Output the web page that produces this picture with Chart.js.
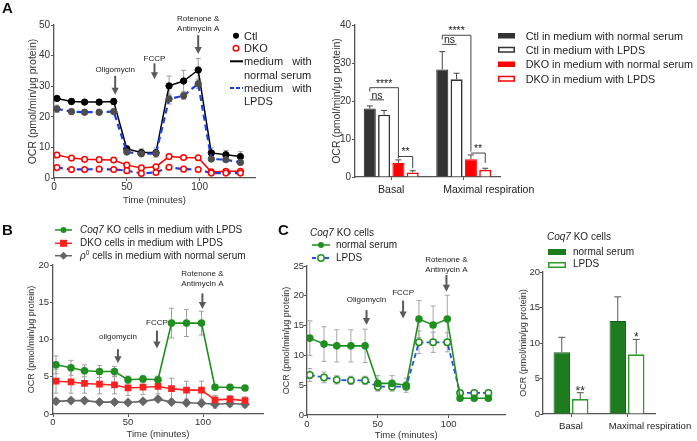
<!DOCTYPE html>
<html>
<head>
<meta charset="utf-8">
<script src="https://cdn.jsdelivr.net/npm/chart.js@4.4.1/dist/chart.umd.min.js"></script>
<style>
html,body{margin:0;padding:0;background:#fff}
body{width:697px;height:441px;position:relative;overflow:hidden;font-family:"Liberation Sans",Arial,Helvetica,sans-serif;color:#1e1e1e}
canvas{position:absolute}
.t{position:absolute;white-space:nowrap;line-height:1;transform:translateY(-50%)}
.pl{font-weight:bold;font-size:15px;color:#111}
sup{font-size:0.65em;vertical-align:0.55em;line-height:0}
</style>
</head>
<body>
<canvas id="cAL"></canvas>
<canvas id="cAR"></canvas>
<canvas id="cB"></canvas>
<canvas id="cCL"></canvas>
<canvas id="cCR"></canvas>

<svg width="697" height="441" style="position:absolute;left:0;top:0;pointer-events:none">
  <!-- A left legend symbols -->
  <circle cx="236" cy="35.7" r="3" fill="#000"/>
  <circle cx="236" cy="48.3" r="2.8" fill="#fff" stroke="#ff0000" stroke-width="1.5"/>
  <line x1="230" y1="61.3" x2="243" y2="61.3" stroke="#000" stroke-width="2"/>
  <line x1="230" y1="88" x2="243" y2="88" stroke="#1c3fe0" stroke-width="2" stroke-dasharray="4,2"/>
  <!-- A right legend symbols -->
  <rect x="498" y="33" width="17" height="5.5" fill="#333"/>
  <rect x="498.75" y="47.5" width="15.5" height="4.5" fill="#fff" stroke="#333" stroke-width="1.5"/>
  <rect x="498" y="61.5" width="17" height="5.5" fill="#ff0000"/>
  <rect x="498.75" y="76.5" width="15.5" height="4.5" fill="#fff" stroke="#ff0000" stroke-width="1.5"/>
  <!-- B legend symbols -->
  <line x1="55" y1="230" x2="72" y2="230" stroke="#1f8f1f" stroke-width="1.5"/>
  <circle cx="63.5" cy="230" r="3" fill="#1f8f1f"/>
  <line x1="55" y1="243.3" x2="72" y2="243.3" stroke="#ff2020" stroke-width="1.5"/>
  <rect x="60" y="239.8" width="7" height="7" fill="#ff2020"/>
  <line x1="55" y1="255.7" x2="72" y2="255.7" stroke="#666" stroke-width="1.5"/>
  <polygon points="63.5,251.7 67.5,255.7 63.5,259.7 59.5,255.7" fill="#666"/>
  <!-- C left legend symbols -->
  <line x1="312" y1="245" x2="330" y2="245" stroke="#1f8f1f" stroke-width="1.5"/>
  <circle cx="321" cy="245" r="3" fill="#1f8f1f"/>
  <line x1="312" y1="258" x2="330" y2="258" stroke="#2a4fe0" stroke-width="1.8" stroke-dasharray="4,2.5"/>
  <circle cx="321" cy="258" r="3.2" fill="#fff" stroke="#1f8f1f" stroke-width="1.5"/>
  <!-- C right legend symbols -->
  <rect x="548" y="249" width="18" height="6" fill="#1e7b1e"/>
  <rect x="548.75" y="262.75" width="16.5" height="4.5" fill="#fff" stroke="#2a9a2a" stroke-width="1.5"/>
</svg>

<div class="t pl" style="left:2px;top:7px">A</div>
<div class="t pl" style="left:2px;top:228.5px">B</div>
<div class="t pl" style="left:278px;top:228.5px">C</div>

<div class="t" style="left:244px;top:35.7px;font-size:11px">Ctl</div>
<div class="t" style="left:244px;top:48.3px;font-size:11px">DKO</div>
<div class="t" style="left:244px;top:61.3px;font-size:11px;word-spacing:6px">medium with</div>
<div class="t" style="left:244px;top:74.5px;font-size:11px">normal serum</div>
<div class="t" style="left:244px;top:88px;font-size:11px;word-spacing:6px">medium with</div>
<div class="t" style="left:244px;top:101px;font-size:11px">LPDS</div>

<div class="t" style="left:525.7px;top:35.7px;font-size:10.8px">Ctl in medium with normal serum</div>
<div class="t" style="left:525.7px;top:50px;font-size:10.8px">Ctl in medium with LPDS</div>
<div class="t" style="left:525.7px;top:64.3px;font-size:10.8px">DKO in medium with normal serum</div>
<div class="t" style="left:525.7px;top:79px;font-size:10.8px">DKO in medium with LPDS</div>

<div class="t" style="left:80px;top:230px;font-size:10px"><i>Coq7</i> KO cells in medium with LPDS</div>
<div class="t" style="left:80px;top:243.3px;font-size:10px">DKO cells in medium with LPDS</div>
<div class="t" style="left:80px;top:255.7px;font-size:10px"><i>ρ</i><sup>0</sup> cells in medium with normal serum</div>

<div class="t" style="left:310px;top:232.7px;font-size:10px"><i>Coq7</i> KO cells</div>
<div class="t" style="left:336px;top:245px;font-size:10px">normal serum</div>
<div class="t" style="left:336px;top:258px;font-size:10px">LPDS</div>

<div class="t" style="left:547px;top:236.7px;font-size:10px"><i>Coq7</i> KO cells</div>
<div class="t" style="left:573px;top:251.7px;font-size:10px">normal serum</div>
<div class="t" style="left:573px;top:264.3px;font-size:10px">LPDS</div>

<script>
// ================= DATA =================
const times = [2, 12, 21, 31, 41, 50, 60, 70, 79, 89, 99, 108, 118, 128];
const yTitle = 'OCR (pmol/min/μg protein)';
const xTitle = 'Time (minutes)';

// Panel A – time course
const aCtlNormal    = [26.0, 25.0, 24.8, 24.8, 25.0, 9.5, 8.3, 8.3, 30.1, 31.7, 35.3, 8.2, 7.6, 7.0];
const aCtlNormalErr = [0.6, 0.8, 0.8, 0.8, 1.0, 1.0, 1.2, 1.5, 3.2, 3.5, 3.8, 1.6, 1.4, 1.6];
const aCtlLpds      = [22.6, 21.7, 21.5, 21.5, 21.7, 8.5, 7.9, 8.0, 25.8, 26.9, 30.8, 6.2, 6.0, 5.1];
const aCtlLpdsErr   = [1.2, 0.8, 0.6, 0.6, 0.8, 0.6, 0.6, 0.6, 1.6, 1.2, 1.5, 0.6, 0.5, 0.5];
const aDkoNormal    = [7.5, 6.5, 6.1, 6.0, 5.9, 4.2, 3.3, 3.7, 7.0, 6.7, 6.6, 2.0, 2.2, 2.2];
const aDkoNormalErr = [0.5, 0.5, 0.5, 0.5, 0.5, 0.5, 0.4, 0.4, 0.6, 0.6, 0.6, 0.4, 0.4, 0.4];
const aDkoLpds      = [3.4, 2.8, 2.8, 2.9, 2.8, 2.4, 1.5, 1.8, 3.5, 2.9, 2.8, 1.6, 1.6, 1.6];
const aDkoLpdsErr   = [0.5, 0.4, 0.4, 0.4, 0.4, 0.4, 0.3, 0.3, 0.5, 0.5, 0.5, 0.3, 0.3, 0.3];

// Panel A – bars
const barCategories    = ['Basal', 'Maximal respiration'];
const aBarCtlNormal    = [18.0, 28.3];
const aBarCtlNormalErr = [0.7, 4.7];
const aBarCtlLpds      = [16.4, 25.7];
const aBarCtlLpdsErr   = [1.1, 1.6];
const aBarDkoNormal    = [3.7, 4.7];
const aBarDkoNormalErr = [0.8, 1.1];
const aBarDkoLpds      = [1.2, 1.9];
const aBarDkoLpdsErr   = [0.45, 0.4];
// significance brackets: category, bar a, bar b, line value, end values, label
const aBrackets = [
  {cat: 0, a: 0, b: 1, y: 20.3, ya: 20.3, yb: 20.3, text: 'ns'},
  {cat: 0, a: 0, b: 2, y: 23.5, ya: 22.5, yb: 4.9, text: '****'},
  {cat: 0, a: 2, b: 3, y: 5.4, ya: 5.4, yb: 2.3, text: '**'},
  {cat: 1, a: 0, b: 1, y: 34.9, ya: 34.9, yb: 34.9, text: 'ns'},
  {cat: 1, a: 0, b: 2, y: 37.3, ya: 36.2, yb: 6.7, text: '****'},
  {cat: 1, a: 2, b: 3, y: 6.3, ya: 6.3, yb: 3.7, text: '**'}
];

// Panel B
const bCoq7Lpds    = [6.6, 6.2, 5.8, 5.7, 5.7, 4.6, 4.7, 4.6, 12.2, 12.2, 12.2, 3.6, 3.6, 3.5];
const bCoq7LpdsErr = [1.2, 1.0, 0.8, 0.8, 0.7, 0.5, 0.5, 0.5, 2.0, 1.8, 1.6, 0.3, 0.3, 0.3];
const bDkoLpds     = [4.4, 4.3, 4.1, 4.0, 3.9, 3.5, 3.6, 3.7, 3.4, 3.2, 3.2, 1.9, 2.0, 1.8];
const bDkoLpdsErr  = [1.6, 1.5, 1.3, 1.3, 1.2, 1.0, 1.0, 1.0, 1.4, 1.2, 1.2, 0.6, 0.5, 0.5];
const bRho0Normal    = [1.7, 1.8, 1.8, 1.6, 1.6, 1.55, 1.7, 2.0, 1.6, 1.5, 1.45, 1.3, 1.4, 1.3];
const bRho0NormalErr = [0.3, 0.3, 0.3, 0.3, 0.3, 0.3, 0.3, 0.3, 0.3, 0.3, 0.3, 0.5, 0.4, 0.4];

// Panel C – time course
const cNormal    = [12.9, 11.9, 11.6, 11.6, 11.6, 5.3, 5.3, 5.0, 16.1, 15.1, 16.1, 2.8, 2.8, 2.8];
const cNormalErr = [2.9, 2.9, 2.7, 2.7, 2.8, 1.3, 1.3, 1.2, 3.1, 3.2, 4.0, 0.4, 0.4, 0.4];
const cLpds      = [6.7, 6.3, 5.9, 5.8, 5.8, 4.75, 4.75, 4.75, 12.2, 12.2, 12.2, 3.7, 3.7, 3.7];
const cLpdsErr   = [1.1, 0.9, 0.7, 0.7, 0.7, 0.5, 0.5, 0.5, 1.9, 1.7, 1.6, 0.3, 0.3, 0.3];

// Panel C – bars
const cBarNormal    = [8.7, 13.1];
const cBarNormalErr = [2.1, 3.4];
const cBarLpds      = [2.1, 8.4];
const cBarLpdsErr   = [0.9, 2.1];
const cStars = [{cat: 0, ds: 1, text: '**'}, {cat: 1, ds: 1, text: '*'}];

// Injection annotations (time, arrow top/tip and label in data units)
const injA = [
  {t: 42, y1: 33.4, y2: 27.2, ty: 35.3, text: ['Oligomycin']},
  {t: 69, y1: 37.5, y2: 32.3, ty: 39.1, text: ['FCCP']},
  {t: 99, y1: 46.7, y2: 40.5, ty: 48.7, text: ['Rotenone &', 'Antimycin A']}
];
const injB = [
  {t: 43.3, y1: 8.7, y2: 6.8, ty: 10.4, text: ['oligomycin']},
  {t: 69.3, y1: 11.2, y2: 8.8, ty: 12.2, text: ['FCCP']},
  {t: 99.6, y1: 16.2, y2: 14.1, ty: 17.5, text: ['Rotenone &', 'Antimycin A']}
];
const injC = [
  {t: 42, y1: 17.6, y2: 15.1, ty: 19.3, text: ['Oligomycin']},
  {t: 67.8, y1: 19.2, y2: 16.2, ty: 20.5, text: ['FCCP']},
  {t: 98.4, y1: 23.5, y2: 20.7, ty: 24.3, text: ['Rotenone &', 'Antimycin A']}
];

// ================= HELPERS =================
const FONT = '"Liberation Sans", Arial, sans-serif';
Chart.defaults.font.family = FONT;
Chart.defaults.color = '#333';
Chart.defaults.animation = false;
Chart.defaults.plugins.legend.display = false;
Chart.defaults.plugins.tooltip.enabled = false;
const AXIS = '#555';

function pts(vals) { return times.map((t, i) => ({x: t, y: vals[i]})); }

function place(id, box) {
  const c = document.getElementById(id);
  c.width = box.w; c.height = box.h;
  c.style.left = box.l + 'px'; c.style.top = box.t + 'px';
  c.style.width = box.w + 'px'; c.style.height = box.h + 'px';
  return c;
}
function pad(box, area, yW, xH) {
  return {left: area.l - box.l - yW, top: area.t - box.t,
          right: box.l + box.w - area.r, bottom: box.t + box.h - area.b - xH};
}
const gridOpts = {display: true, drawOnChartArea: false, drawTicks: true, tickLength: 3, color: AXIS, lineWidth: 1};
const borderOpts = {display: true, color: AXIS, width: 1.3};

function yScale(max, step, yW, tickSize, titleSize, tickPad) {
  return {
    min: 0, max: max,
    ticks: {stepSize: step, font: {size: tickSize}, color: '#333', padding: tickPad},
    grid: gridOpts, border: borderOpts,
    title: {display: true, text: yTitle, font: {size: titleSize}, color: '#333', padding: 0},
    afterFit(s) { s.width = yW; }
  };
}
function xLinear(max, xH, tickSize, titleSize, tickPad) {
  return {
    type: 'linear', min: 0, max: max,
    ticks: {stepSize: 50, includeBounds: false, font: {size: tickSize}, color: '#333', padding: tickPad, maxRotation: 0},
    grid: gridOpts, border: borderOpts,
    title: {display: true, text: xTitle, font: {size: titleSize}, color: '#333', padding: 0},
    afterFit(s) { s.height = xH; }
  };
}
function xCat(xH) {
  return {
    type: 'category', offset: true, ticks: {display: false},
    grid: Object.assign({}, gridOpts, {offset: false}), border: borderOpts,
    afterFit(s) { s.height = xH; }
  };
}

function errorBars(mode, color, capW, width) {
  function draw(chart) {
    const ctx = chart.ctx, ys = chart.scales.y;
    ctx.save();
    ctx.strokeStyle = color; ctx.lineWidth = width;
    chart.data.datasets.forEach((ds, di) => {
      if (!ds.errors) return;
      const meta = chart.getDatasetMeta(di);
      meta.data.forEach((el, j) => {
        const raw = ds.data[j];
        const v = (typeof raw === 'object') ? raw.y : raw;
        const e = ds.errors[j];
        if (!e) return;
        const x = el.x;
        const top = ys.getPixelForValue(v + e);
        const bot = mode === 'up' ? ys.getPixelForValue(v) : ys.getPixelForValue(v - e);
        ctx.beginPath();
        ctx.moveTo(x, bot); ctx.lineTo(x, top);
        ctx.moveTo(x - capW, top); ctx.lineTo(x + capW, top);
        if (mode !== 'up') { ctx.moveTo(x - capW, bot); ctx.lineTo(x + capW, bot); }
        ctx.stroke();
      });
    });
    ctx.restore();
  }
  return mode === 'up' ? {id: 'eb', afterDatasetsDraw: draw} : {id: 'eb', beforeDatasetsDraw: draw};
}

function injections(items, fontSize, lineGap) {
  return {id: 'inj', afterDatasetsDraw(chart) {
    const ctx = chart.ctx, x = chart.scales.x, y = chart.scales.y;
    ctx.save();
    items.forEach(it => {
      const px = x.getPixelForValue(it.t);
      const y1 = y.getPixelForValue(it.y1), y2 = y.getPixelForValue(it.y2);
      const hh = 7, hw = 3.6;
      ctx.strokeStyle = '#5a5a5a'; ctx.fillStyle = '#5a5a5a'; ctx.lineWidth = 2;
      ctx.beginPath(); ctx.moveTo(px, y1); ctx.lineTo(px, y2 - hh + 1); ctx.stroke();
      ctx.beginPath(); ctx.moveTo(px - hw, y2 - hh); ctx.lineTo(px + hw, y2 - hh); ctx.lineTo(px, y2); ctx.closePath(); ctx.fill();
      ctx.fillStyle = '#222';
      ctx.font = fontSize + 'px ' + FONT;
      ctx.textAlign = 'center'; ctx.textBaseline = 'middle';
      const ty = y.getPixelForValue(it.ty);
      const n = it.text.length;
      it.text.forEach((s, k) => ctx.fillText(s, px, ty - (n - 1 - k) * lineGap));
    });
    ctx.restore();
  }};
}

function brackets(items, fontSize) {
  return {id: 'br', afterDatasetsDraw(chart) {
    const ctx = chart.ctx, y = chart.scales.y;
    ctx.save();
    ctx.strokeStyle = '#444'; ctx.lineWidth = 1; ctx.fillStyle = '#222';
    ctx.font = fontSize + 'px ' + FONT; ctx.textAlign = 'center'; ctx.textBaseline = 'alphabetic';
    items.forEach(b => {
      const xa = chart.getDatasetMeta(b.a).data[b.cat].x;
      const xb = chart.getDatasetMeta(b.b).data[b.cat].x;
      const yl = y.getPixelForValue(b.y);
      ctx.beginPath();
      ctx.moveTo(xa, y.getPixelForValue(b.ya)); ctx.lineTo(xa, yl);
      ctx.lineTo(xb, yl); ctx.lineTo(xb, y.getPixelForValue(b.yb));
      ctx.stroke();
      ctx.fillText(b.text, (xa + xb) / 2, yl - 1);
    });
    ctx.restore();
  }};
}

function stars(items, fontSize) {
  return {id: 'st', afterDatasetsDraw(chart) {
    const ctx = chart.ctx, y = chart.scales.y;
    ctx.save();
    ctx.fillStyle = '#222'; ctx.font = fontSize + 'px ' + FONT;
    ctx.textAlign = 'center'; ctx.textBaseline = 'alphabetic';
    items.forEach(s => {
      const ds = chart.data.datasets[s.ds];
      const el = chart.getDatasetMeta(s.ds).data[s.cat];
      const top = y.getPixelForValue(ds.data[s.cat] + ds.errors[s.cat]);
      ctx.fillText(s.text, el.x, top + 2);
    });
    ctx.restore();
  }};
}

function catLabels(labels, offsets, fontSize, dy) {
  return {id: 'cl', afterDraw(chart) {
    const ctx = chart.ctx, x = chart.scales.x;
    ctx.save();
    ctx.font = fontSize + 'px ' + FONT; ctx.fillStyle = '#222';
    ctx.textAlign = 'center'; ctx.textBaseline = 'middle';
    labels.forEach((l, i) => ctx.fillText(l, x.getPixelForValue(i) + offsets[i], chart.chartArea.bottom + dy));
    ctx.restore();
  }};
}

const BLUE = '#1c3fe0';
const GREEN = '#1f8f1f';

// ================= PANEL A LEFT =================
{
  const box = {l: 0, t: 0, w: 262, h: 206}, area = {l: 54, t: 25, r: 255, b: 178};
  new Chart(place('cAL', box), {
    type: 'line',
    data: {datasets: [
      {data: pts(aCtlLpds), errors: aCtlLpdsErr, borderColor: BLUE, borderWidth: 2.2, borderDash: [6, 4],
       pointRadius: 3.2, pointBackgroundColor: '#4d4d4d', pointBorderColor: '#4d4d4d', pointBorderWidth: 1},
      {data: pts(aDkoLpds), errors: aDkoLpdsErr, borderColor: BLUE, borderWidth: 2.2, borderDash: [6, 4],
       pointRadius: 2.8, pointBackgroundColor: '#fff', pointBorderColor: '#ff0000', pointBorderWidth: 1.5},
      {data: pts(aCtlNormal), errors: aCtlNormalErr, borderColor: '#000', borderWidth: 1.5,
       pointRadius: 3.2, pointBackgroundColor: '#000', pointBorderColor: '#000', pointBorderWidth: 1},
      {data: pts(aDkoNormal), errors: aDkoNormalErr, borderColor: '#ff0000', borderWidth: 1.5,
       pointRadius: 2.8, pointBackgroundColor: '#fff', pointBorderColor: '#ff0000', pointBorderWidth: 1.5}
    ]},
    options: {responsive: false, layout: {padding: pad(box, area, 27, 28)},
      scales: {x: xLinear(138, 28, 10, 9.5, 0), y: yScale(50, 10, 27, 10, 10.5, 1)}},
    plugins: [errorBars('both', '#9a9a9a', 2.5, 1), injections(injA, 8, 10)]
  });
}

// ================= PANEL A RIGHT =================
{
  const box = {l: 300, t: 0, w: 245, h: 200}, area = {l: 355, t: 25, r: 500, b: 177};
  new Chart(place('cAR', box), {
    type: 'bar',
    data: {labels: barCategories, datasets: [
      {data: aBarCtlNormal, errors: aBarCtlNormalErr, backgroundColor: '#333', borderColor: '#222', borderWidth: 1},
      {data: aBarCtlLpds, errors: aBarCtlLpdsErr, backgroundColor: '#fff', borderColor: '#333', borderWidth: 1.6},
      {data: aBarDkoNormal, errors: aBarDkoNormalErr, backgroundColor: '#ff0000', borderColor: '#ff0000', borderWidth: 1},
      {data: aBarDkoLpds, errors: aBarDkoLpdsErr, backgroundColor: '#fff', borderColor: '#ff0000', borderWidth: 1.6}
    ]},
    options: {responsive: false, layout: {padding: pad(box, area, 24, 20)},
      datasets: {bar: {categoryPercentage: 0.79, barPercentage: 0.84}},
      scales: {x: xCat(20), y: yScale(40, 10, 24, 10, 10.5, 1)}},
    plugins: [errorBars('up', '#444', 3, 1), brackets(aBrackets, 10.5), catLabels(barCategories, [0, 25], 10.5, 13)]
  });
}

// ================= PANEL B =================
{
  const box = {l: 0, t: 240, w: 270, h: 200}, area = {l: 53, t: 265, r: 263, b: 414};
  new Chart(place('cB', box), {
    type: 'line',
    data: {datasets: [
      {data: pts(bCoq7Lpds), errors: bCoq7LpdsErr, borderColor: GREEN, borderWidth: 1.6,
       pointRadius: 3, pointBackgroundColor: GREEN, pointBorderColor: GREEN},
      {data: pts(bDkoLpds), errors: bDkoLpdsErr, borderColor: '#ff2020', borderWidth: 1.6,
       pointStyle: 'rect', pointRadius: 3.6, pointBackgroundColor: '#ff2020', pointBorderColor: '#ff2020'},
      {data: pts(bRho0Normal), errors: bRho0NormalErr, borderColor: '#666', borderWidth: 1.6,
       pointStyle: 'rectRot', pointRadius: 3.8, pointBackgroundColor: '#666', pointBorderColor: '#666'}
    ]},
    options: {responsive: false, layout: {padding: pad(box, area, 27, 26)},
      scales: {x: xLinear(140, 26, 9.5, 9.5, 0), y: yScale(20, 5, 27, 9.5, 9, 1)}},
    plugins: [errorBars('both', '#a0a0a0', 2.5, 1), injections(injB, 8, 10)]
  });
}

// ================= PANEL C LEFT =================
{
  const box = {l: 255, t: 250, w: 256, h: 191}, area = {l: 307, t: 266, r: 506, b: 415};
  new Chart(place('cCL', box), {
    type: 'line',
    data: {datasets: [
      {data: pts(cNormal), errors: cNormalErr, borderColor: GREEN, borderWidth: 1.6,
       pointRadius: 3, pointBackgroundColor: GREEN, pointBorderColor: GREEN},
      {data: pts(cLpds), errors: cLpdsErr, borderColor: '#2a4fe0', borderWidth: 1.8, borderDash: [5, 3],
       pointRadius: 3.2, pointBackgroundColor: '#fff', pointBorderColor: GREEN, pointBorderWidth: 1.5}
    ]},
    options: {responsive: false, layout: {padding: pad(box, area, 26, 26)},
      scales: {x: xLinear(140, 26, 9.5, 9.5, 1), y: yScale(25, 5, 26, 9.5, 9, 0)}},
    plugins: [errorBars('both', '#a8a8a8', 2.5, 1), injections(injC, 8, 10)]
  });
}

// ================= PANEL C RIGHT =================
{
  const box = {l: 510, t: 255, w: 187, h: 186}, area = {l: 543, t: 272, r: 655, b: 414};
  new Chart(place('cCR', box), {
    type: 'bar',
    data: {labels: barCategories, datasets: [
      {data: cBarNormal, errors: cBarNormalErr, backgroundColor: '#1e7b1e', borderColor: '#165e16', borderWidth: 1},
      {data: cBarLpds, errors: cBarLpdsErr, backgroundColor: '#fff', borderColor: '#2a9a2a', borderWidth: 1.6}
    ]},
    options: {responsive: false, layout: {padding: pad(box, area, 25, 20)},
      datasets: {bar: {categoryPercentage: 0.66, barPercentage: 0.89}},
      scales: {x: xCat(20), y: yScale(20, 5, 25, 9.5, 9, 0)}},
    plugins: [errorBars('up', '#555', 3.5, 1), stars(cStars, 12), catLabels(barCategories, [0, 23], 9.5, 12)]
  });
}
</script>
</body>
</html>
